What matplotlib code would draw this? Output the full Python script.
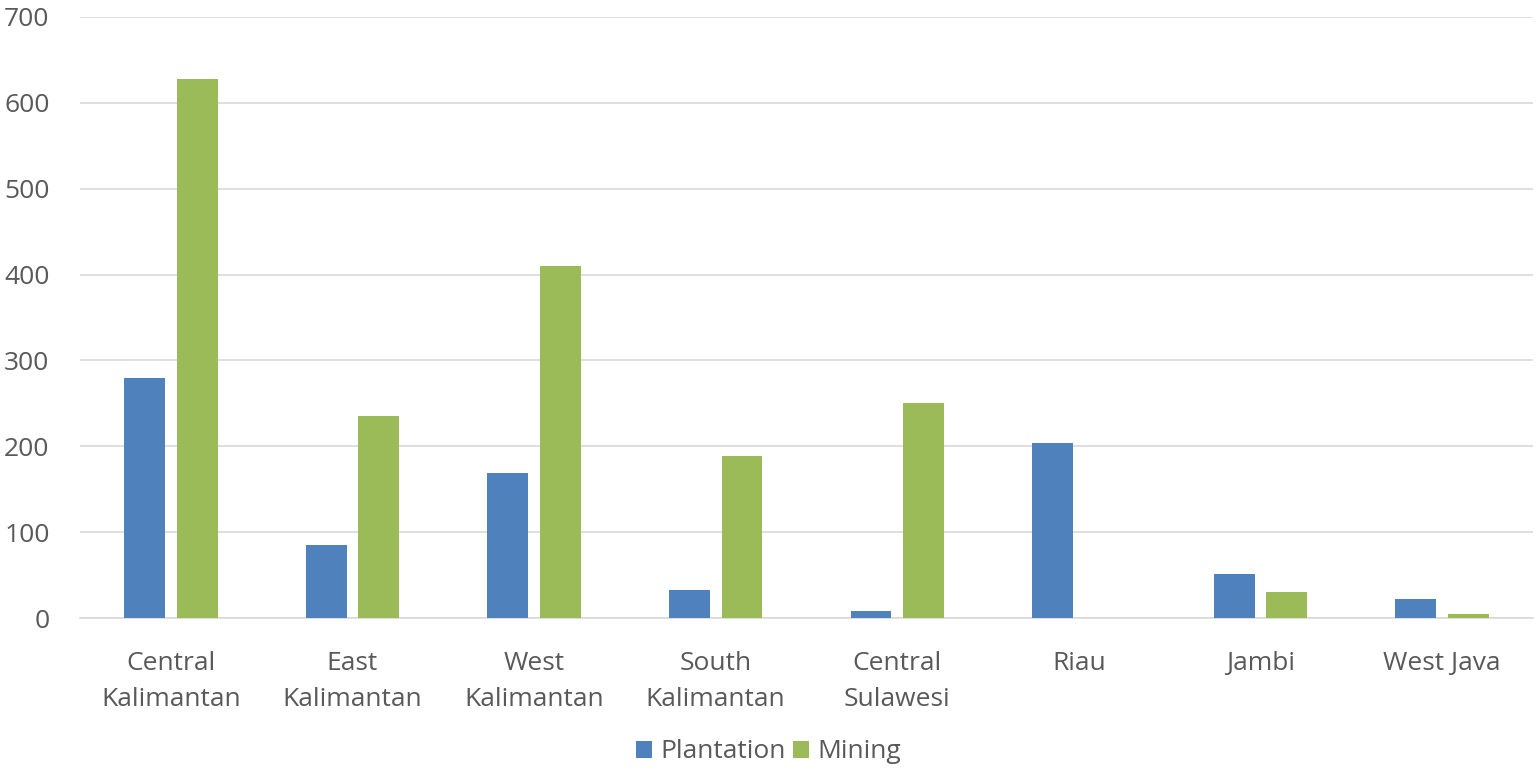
import numpy as np
import matplotlib.pyplot as plt

plt.switch_backend('Agg')
plt.rcParams['font.family'] = ['Liberation Sans Narrow', 'Open Sans', 'DejaVu Sans']

# data
regions = ["Central\nKalimantan", "East\nKalimantan", "West\nKalimantan", "South\nKalimantan",
           "Central\nSulawesi", "Riau", "Jambi", "West Java"]
plantation = [280, 85, 169, 33, 8, 204, 51, 22]
mining = [628, 235, 410, 189, 250, 0, 30, 5]

blue = '#4f81bd'
green = '#9bbb59'
grey = '#595959'

x = np.arange(len(regions))
w = 0.225
off = 0.145

fig = plt.figure(figsize=(15.37, 7.72), dpi=100)
ax = fig.add_axes([80 / 1537, 1 - 618 / 772, (1533 - 80) / 1537, (618 - 17) / 772])

ax.bar(x - off, plantation, w, color=blue, label='Plantation', zorder=3)
ax.bar(x + off, mining, w, color=green, label='Mining', zorder=3)

ax.set_xlim(-0.5, len(regions) - 0.5)
ax.set_ylim(0, 700)
ax.set_yticks(range(0, 701, 100))
ax.yaxis.grid(True, color='#d9d9d9', linewidth=1.2, zorder=0)
ax.set_xticks(x)
ax.set_xticklabels(regions, linespacing=1.55)
ax.tick_params(axis='both', length=0, labelsize=19, colors=grey)
ax.tick_params(axis='x', pad=24)
ax.tick_params(axis='y', pad=22)
for s in ['top', 'right', 'left']:
    ax.spines[s].set_visible(False)
ax.spines['bottom'].set_color('#d9d9d9')
ax.spines['bottom'].set_linewidth(1.2)

handles, labels = ax.get_legend_handles_labels()
leg = fig.legend(handles, labels, loc='center', bbox_to_anchor=(0.5, 1 - 752 / 772), ncol=2,
                 frameon=False, fontsize=19, handlelength=0.6, handleheight=0.6,
                 handletextpad=0.3, columnspacing=0.3, borderpad=0)
for t in leg.get_texts():
    t.set_color(grey)

fig.savefig("out.png", dpi=100)
